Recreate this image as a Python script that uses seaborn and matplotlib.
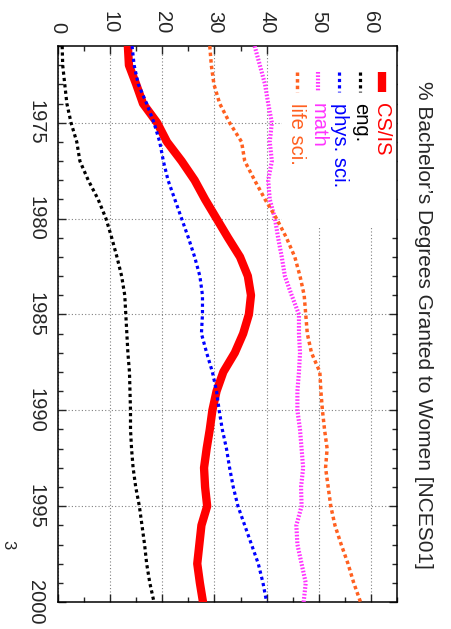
import numpy as np
import seaborn as sns
import matplotlib.pyplot as plt
from matplotlib.patches import Rectangle
from matplotlib.ticker import MultipleLocator

# Percentage of bachelor's degrees granted to women, 1971-2000
years = list(range(1971, 2001))
cs_is = [13.4, 13.6, 15.0, 16.3, 19.0, 20.9, 23.7, 26.2, 28.2, 30.4,
         32.6, 34.9, 36.4, 37.0, 36.6, 35.5, 33.9, 31.7, 30.4, 29.6,
         29.1, 28.5, 28.0, 28.2, 28.6, 27.5, 27.1, 26.7, 27.2, 27.8]
eng = [0.8, 0.9, 1.3, 1.7, 2.5, 3.6, 4.2, 5.8, 7.7, 9.2,
       10.3, 11.3, 12.2, 12.8, 13.0, 13.2, 13.4, 13.7, 13.8, 13.9,
       13.9, 14.1, 14.4, 14.9, 15.6, 16.1, 16.6, 17.0, 17.6, 18.4]
phys_sci = [14.2, 14.6, 15.4, 17.0, 18.4, 19.5, 20.2, 21.1, 22.4, 23.7,
            25.0, 26.2, 27.2, 27.7, 27.7, 27.5, 28.5, 29.6, 30.4, 30.9,
            31.5, 32.3, 32.9, 33.6, 34.5, 35.8, 37.1, 38.4, 39.3, 40.0]
math = [37.7, 38.7, 39.7, 40.3, 41.0, 40.6, 41.0, 40.3, 40.6, 41.6,
        42.2, 42.9, 43.5, 44.8, 46.2, 46.2, 46.4, 46.2, 45.9, 45.9,
        46.4, 46.7, 47.0, 46.6, 46.7, 45.7, 45.9, 46.7, 47.5, 47.1]
life_sci = [29.1, 29.4, 29.9, 31.0, 32.9, 35.2, 35.8, 37.7, 39.7, 41.9,
            43.8, 45.4, 46.4, 47.2, 47.5, 47.8, 48.6, 50.2, 50.4, 50.7,
            51.1, 51.6, 51.3, 51.8, 52.3, 53.1, 54.3, 55.6, 56.7, 58.0]

labels = ["CS/IS", "eng.", "phys. sci.", "math", "life sci."]
series = [cs_is, eng, phys_sci, math, life_sci]
colors = ["#ff0000", "#000000", "#0000ff", "#ff33ff", "#ff6020"]
widths = [6.0, 2.3, 2.3, 3.0, 2.5]
styles = ["-", (0, (1, 1)), (0, (1, 1)), (0, (0.4, 0.4)), (0, (1, 0.9))]

sns.set_style("white")
plt.rcParams["font.family"] = ["Liberation Sans", "DejaVu Sans"]

fig = plt.figure(figsize=(4.51, 6.29), dpi=100)
ax = fig.add_axes([0.1286, 0.0429, 0.7517, 0.8839])

# the page is turned a quarter: values run across, years run down
for vals, col, lw, ls in zip(series, colors, widths, styles):
    sns.lineplot(x=vals, y=years, orient="y", color=col, linewidth=lw,
                 linestyle=ls, errorbar=None, ax=ax, zorder=3)

ax.set_xlim(0, 65)
ax.set_ylim(2000, 1971)
ax.xaxis.set_major_locator(MultipleLocator(10))
ax.xaxis.set_minor_locator(MultipleLocator(5))
ax.yaxis.set_major_locator(MultipleLocator(5))
ax.yaxis.set_minor_locator(MultipleLocator(1))
ax.set_xticks(range(0, 61, 10))
ax.set_xlabel("")
ax.set_ylabel("")

ax.tick_params(axis="x", which="both", direction="in", top=True, bottom=True,
               labeltop=True, labelbottom=False, labelrotation=-90,
               labelsize=14.5, pad=9)
ax.tick_params(axis="y", which="both", direction="in", left=True, right=True,
               labelleft=True, labelright=False, labelrotation=-90,
               labelsize=14.5, pad=9)
for lab in ax.get_yticklabels():
    lab.set_va("center")
ax.tick_params(which="major", length=6, width=1)
ax.tick_params(which="minor", length=3.5, width=1)

ax.grid(which="major", color="#808080", linestyle=(0, (1, 2)), linewidth=0.8)
ax.set_axisbelow(True)
for sp in ax.spines.values():
    sp.set_color("black")
    sp.set_linewidth(1.1)

# key area clears the grid
ax.add_patch(Rectangle((0.66, 0.673), 0.34, 0.327, transform=ax.transAxes,
                       facecolor="white", edgecolor="none", zorder=1.6))

key_x = 0.955
for i, (lab, col, lw, ls) in enumerate(zip(labels, colors, widths, styles)):
    xk = key_x - i * 0.0628
    ax.plot([xk, xk], [0.953, 0.917], transform=ax.transAxes, color=col,
            linewidth=lw, linestyle=ls, zorder=4, solid_capstyle="butt")
    ax.text(xk, 0.897, lab, transform=ax.transAxes, rotation=-90,
            rotation_mode="anchor", ha="left", va="center", color=col,
            fontsize=14.5, zorder=4)

fig.text(0.940, 0.483, "% Bachelor\u2019s Degrees Granted to Women [NCES01]",
         rotation=-90, ha="center", va="center", fontsize=15)
fig.text(0.018, 0.1335, "3", rotation=-90, ha="center", va="center",
         fontsize=12)

fig.savefig("out.png", dpi=100)
